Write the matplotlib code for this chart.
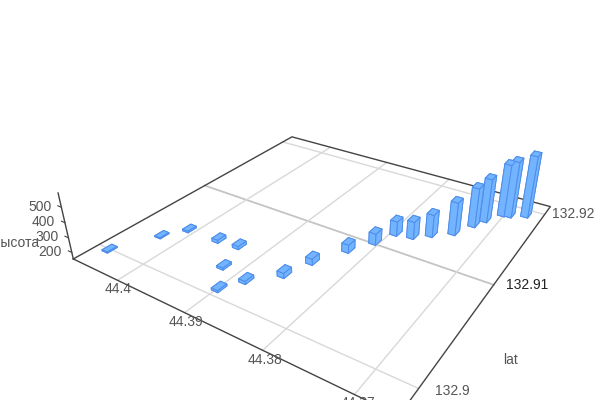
import matplotlib
matplotlib.use('Agg')
import matplotlib.pyplot as plt
import numpy as np

plt.rcParams['font.family'] = ['Liberation Sans', 'DejaVu Sans']

lat = [132.89999, 132.90307, 132.90465, 132.90477, 132.90493, 132.90265, 132.90076,
       132.90226, 132.90401, 132.9061, 132.90849, 132.91027, 132.91201, 132.91228,
       132.91318, 132.91424, 132.91594, 132.91702, 132.91848, 132.9186, 132.91923]
lon = [44.40561, 44.4028, 44.40099, 44.39637, 44.39346, 44.39219, 44.38989,
       44.3884, 44.38561, 44.38446, 44.38236, 44.3806, 44.37947, 44.37746,
       44.37577, 44.37367, 44.37238, 44.3716, 44.37027, 44.36945, 44.3677]
height = [162, 162, 166, 176, 176, 169, 168, 175, 189, 196, 211, 233, 256, 276,
          312, 384, 431, 462, 524, 552, 590]

lat_ticks = [132.9, 132.91, 132.92]
lon_ticks = [44.4, 44.39, 44.38, 44.37]
height_ticks = [200, 300, 400, 500]

xmin, xmax = 132.89796, 132.92136
ymin, ymax = 44.36573, 44.40744
zmin, zmax = 155, 590
bar_dx, bar_dy = 0.0008, 0.0009

GRID = '#d8d8d8'
AXIS = '#444444'
TEXT = '#555555'

fig = plt.figure(figsize=(6, 4), dpi=100)
ax = fig.add_subplot(projection='3d', computed_zorder=False)

# camera fitted against the gridlines of the original
cx, cy, size = 321.4, 192.93, 488.6
ax.set_position([(cx - size / 2) / 600, (cy - size / 2) / 400, size / 600, size / 400])
ax.view_init(elev=28.88, azim=-146.58)
ax.set_proj_type('persp', focal_length=0.2424)
ax.set_box_aspect((1.1388, 1.1298, 0.2307))
ax.set_axis_off()

for x in lat_ticks:
    ax.plot([x, x], [ymin, ymax], [zmin, zmin], color='#c4c4c4' if x == 132.91 else GRID,
            lw=1.3 if x == 132.91 else 1, zorder=1, clip_on=False)
for y in lon_ticks:
    ax.plot([xmin, xmax], [y, y], [zmin, zmin], color=GRID, lw=1, zorder=1, clip_on=False)

# floor outline and the height axis
ax.plot([xmin, xmax, xmax, xmin, xmin], [ymax, ymax, ymin, ymin, ymax], [zmin] * 5,
        color=AXIS, lw=1, zorder=2, clip_on=False)
ax.plot([xmin, xmin], [ymax, ymax], [zmin, zmax], color=AXIS, lw=1, zorder=2, clip_on=False)
for z in height_ticks:
    ax.plot([xmin, xmin], [ymax, ymax + 0.0006], [z, z], color=AXIS, lw=0.8, zorder=2, clip_on=False)

lat_arr = np.array(lat)
lon_arr = np.array(lon)
height_arr = np.array(height)
ax.bar3d(lat_arr - bar_dx / 2, lon_arr - bar_dy / 2, np.full(len(lat), zmin),
         bar_dx, bar_dy, height_arr - zmin, color='#72b4ff', edgecolor='#4f8eea',
         linewidth=0.7, shade=False, zorder=3)

ax.set_xlim(xmin, xmax, view_margin=0)
ax.set_ylim(ymin, ymax, view_margin=0)
ax.set_zlim(zmin, zmax, view_margin=0)


def label(px, py, s, ha='center', color=TEXT):
    fig.text(px / 600, 1 - py / 400, s, ha=ha, va='center', fontsize=10, color=color)


for z, px, py in zip(height_ticks, [62, 59, 55, 52], [252, 237, 222, 207]):
    label(px, py, str(z), ha='right')
for y, px, py in zip(lon_ticks, [118, 186, 265, 358], [289, 322, 360, 403]):
    label(px, py, str(y))
for x, px, py, c in zip(lat_ticks, [435, 506, 552], [391, 285, 214], [TEXT, '#222222', TEXT]):
    label(px, py, str(x), ha='left', color=c)
label(39, 243, 'высота', ha='right')
label(511, 360, 'lat')

fig.savefig('out.png', dpi=100)
